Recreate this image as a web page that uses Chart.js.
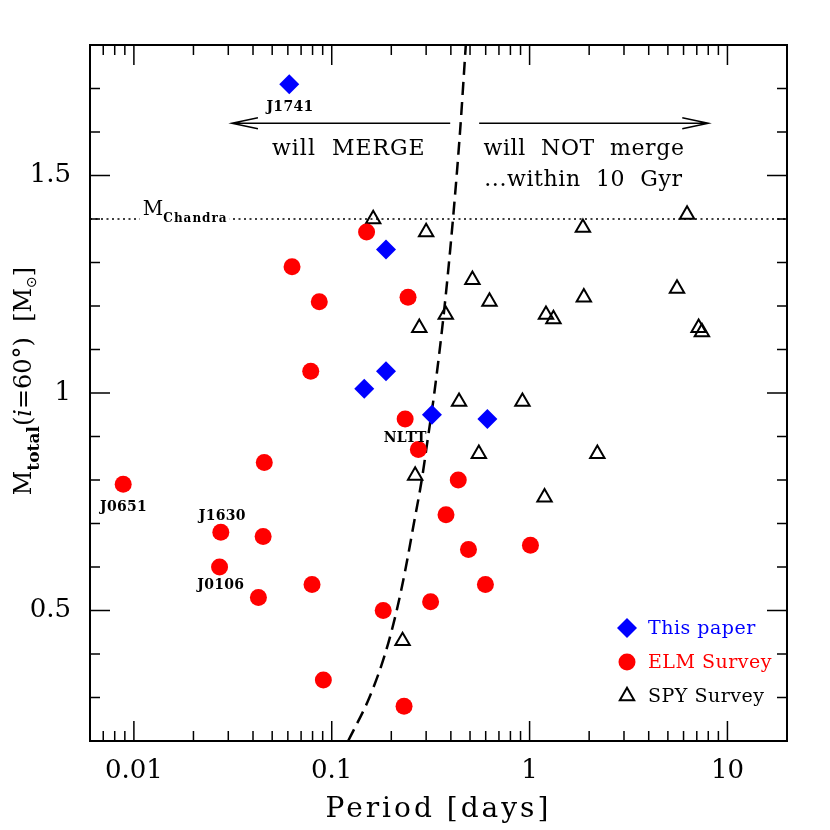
<!DOCTYPE html>
<html>
<head>
<meta charset="utf-8">
<script src="https://cdn.jsdelivr.net/npm/chart.js@4.4.1/dist/chart.umd.min.js"></script>
<style>
  html, body { margin: 0; padding: 0; background: #fff; }
  #wrap { width: 830px; height: 830px; }
</style>
</head>
<body>
<div id="wrap"><canvas id="chart"></canvas></div>
<script>
// axis ranges and ticks
const xMin = 0.006, xMax = 20, yMin = 0.2, yMax = 1.8;
const xMajorTicks = [0.01, 0.1, 1, 10];
const xMinorTicks = [0.007, 0.008, 0.009,
  0.02, 0.03, 0.04, 0.05, 0.06, 0.07, 0.08, 0.09,
  0.2, 0.3, 0.4, 0.5, 0.6, 0.7, 0.8, 0.9,
  2, 3, 4, 5, 6, 7, 8, 9];
const yMajorTicks = [0.5, 1, 1.5];
const yMinorTicks = [0.3, 0.4, 0.6, 0.7, 0.8, 0.9, 1.1, 1.2, 1.3, 1.4, 1.6, 1.7];

// This paper (blue diamonds)
const thisPaperPeriod = [0.061, 0.188, 0.188, 0.146, 0.321, 0.612];
const thisPaperMass   = [1.71, 1.33, 1.05, 1.01, 0.95, 0.94];

// ELM Survey (red circles)
const elmPeriod = [0.150, 0.063, 0.0865, 0.243, 0.0783, 0.235, 0.274, 0.0456, 0.00883, 0.0275, 0.045, 0.0271,
  0.0795, 0.0426, 0.182, 0.0907, 0.232, 0.436, 0.378, 0.491, 1.01, 0.598, 0.316];
const elmMass = [1.37, 1.29, 1.21, 1.22, 1.05, 0.94, 0.87, 0.84, 0.79, 0.68, 0.67, 0.60,
  0.56, 0.53, 0.50, 0.34, 0.28, 0.80, 0.72, 0.64, 0.65, 0.56, 0.52];

// SPY Survey (open triangles)
const spyPeriod = [0.162, 0.30, 0.277, 1.86, 6.25, 0.514, 0.627, 0.377, 1.21, 1.32, 1.88, 5.56, 7.15, 7.43,
  0.44, 0.92, 0.554, 2.20, 0.264, 1.19, 0.228];
const spyMass = [1.40, 1.37, 1.15, 1.38, 1.41, 1.26, 1.21, 1.18, 1.18, 1.17, 1.22, 1.24, 1.15, 1.14,
  0.98, 0.98, 0.86, 0.86, 0.81, 0.76, 0.43];

// 10 Gyr merger time line
const curveMass   = [0.2, 0.3, 0.4, 0.5, 0.6, 0.7, 0.8, 0.9, 1.0, 1.2, 1.4, 1.6, 1.8];
const curvePeriod = [0.121, 0.155, 0.186, 0.213, 0.237, 0.26, 0.285, 0.307, 0.33, 0.372, 0.41, 0.445, 0.476];

// Chandrasekhar mass
const chandraMass = 1.4;

const SERIF = '"DejaVu Serif", serif';
const legendTextColor = ['#0000ff', '#ff0000', '#000000'];

const starLabels = [
  { text: 'J1741', x: 0.0615, y: 1.649 },
  { text: 'NLTT', x: 0.235, y: 0.8875 },
  { text: 'J0651', x: 0.00887, y: 0.729 },
  { text: 'J1630', x: 0.028, y: 0.7076 },
  { text: 'J0106', x: 0.0275, y: 0.5485 }
];
const arrowY = 1.62;
const mergeArrow = [0.397, 0.0313];
const noMergeArrow = [0.556, 8.0];

function pairs(xs, ys) {
  return xs.map((v, i) => ({ x: v, y: ys[i] }));
}

function put(ctx, str, px, py, font, color, align, spacing) {
  ctx.save();
  ctx.font = font;
  ctx.fillStyle = color;
  ctx.textAlign = align || 'left';
  ctx.textBaseline = 'alphabetic';
  ctx.letterSpacing = spacing || '0px';
  ctx.fillText(str, px, py);
  ctx.restore();
}

function arrow(ctx, x0, x1, py) {
  const dir = Math.sign(x1 - x0);
  ctx.beginPath();
  ctx.moveTo(x0, py);
  ctx.lineTo(x1, py);
  ctx.moveTo(x1 - dir * 26, py - 5.5);
  ctx.lineTo(x1, py);
  ctx.lineTo(x1 - dir * 26, py + 5.5);
  ctx.stroke();
}

const decorations = {
  id: 'decorations',
  afterDatasetsDraw(chart) {
    const ctx = chart.ctx, a = chart.chartArea;
    const X = v => chart.scales.x.getPixelForValue(v);
    const Y = v => chart.scales.y.getPixelForValue(v);
    ctx.save();

    // frame and inward ticks on all four sides
    ctx.strokeStyle = '#000';
    ctx.lineWidth = 2;
    ctx.strokeRect(a.left, a.top, a.right - a.left, a.bottom - a.top);
    ctx.lineWidth = 1.5;
    ctx.beginPath();
    const xt = (vals, len) => vals.forEach(v => {
      const p = X(v);
      ctx.moveTo(p, a.bottom); ctx.lineTo(p, a.bottom - len);
      ctx.moveTo(p, a.top); ctx.lineTo(p, a.top + len);
    });
    const yt = (vals, len) => vals.forEach(v => {
      const p = Y(v);
      ctx.moveTo(a.left, p); ctx.lineTo(a.left + len, p);
      ctx.moveTo(a.right, p); ctx.lineTo(a.right - len, p);
    });
    xt(xMajorTicks, 20); xt(xMinorTicks, 10);
    yt(yMajorTicks, 20); yt(yMinorTicks, 10);
    ctx.stroke();

    // arrows and their captions
    ctx.lineWidth = 1.5;
    arrow(ctx, X(mergeArrow[0]), X(mergeArrow[1]), Y(arrowY));
    arrow(ctx, X(noMergeArrow[0]), X(noMergeArrow[1]), Y(arrowY));
    put(ctx, 'will  MERGE', X(0.122), Y(1.548), '22px ' + SERIF, '#000', 'center', '1px');
    put(ctx, 'will  NOT  merge', X(0.585), Y(1.548), '22px ' + SERIF, '#000', 'left', '0.6px');
    put(ctx, '...within  10  Gyr', X(0.59), Y(1.475), '22px ' + SERIF, '#000', 'left', '0.6px');

    // M_Chandra label over the dotted line
    const mx = X(0.0111), my = Y(1.41);
    ctx.font = '20px ' + SERIF;
    const wM = ctx.measureText('M').width;
    ctx.font = 'bold 12px ' + SERIF;
    ctx.letterSpacing = '1px';
    const wC = ctx.measureText('Chandra').width;
    ctx.letterSpacing = '0px';
    ctx.fillStyle = '#fff';
    ctx.fillRect(mx - 3, Y(chandraMass) - 3, wM + wC + 5, 6);
    put(ctx, 'M', mx, my, '20px ' + SERIF, '#000', 'left');
    put(ctx, 'Chandra', mx + wM, my + 7, 'bold 12px ' + SERIF, '#000', 'left', '1px');

    // object names
    starLabels.forEach(s => put(ctx, s.text, X(s.x), Y(s.y), 'bold 14px ' + SERIF, '#000', 'center', '0.3px'));

    // legend
    chart.data.datasets.slice(0, 3).forEach((ds, i) => {
      const lx = a.right - 160, ly = a.bottom - 113 + i * 34;
      ctx.fillStyle = ds.backgroundColor;
      ctx.strokeStyle = ds.borderColor || ds.backgroundColor;
      ctx.lineWidth = ds.borderWidth;
      ctx.setLineDash([]);
      Chart.helpers.drawPoint(ctx, { pointStyle: ds.pointStyle, radius: ds.pointRadius, borderWidth: ds.borderWidth, rotation: 0 }, lx, ly);
      put(ctx, ds.label, lx + 21, ly + 5.5, '19px ' + SERIF, legendTextColor[i], 'left', '0.5px');
    });

    // axis titles
    put(ctx, 'Period [days]', (a.left + a.right) / 2, 817, '28px ' + SERIF, '#000', 'center', '3px');
    const main = '24px ' + SERIF;
    const runs = [
      ['M', main, 0],
      ['total', 'bold 17px ' + SERIF, 8],
      ['(', main, 0],
      ['i', 'italic 24px ' + SERIF, 0],
      ['=60°)', main, 0],
      ['  [M', main, 0],
      ['\u2299', '14px "DejaVu Sans"', 5],
      [']', main, 0]
    ];
    ctx.save();
    ctx.translate(31, (a.top + a.bottom) / 2 - 12);
    ctx.rotate(-Math.PI / 2);
    ctx.fillStyle = '#000';
    ctx.textBaseline = 'alphabetic';
    let total = 0;
    runs.forEach(r => { ctx.font = r[1]; total += ctx.measureText(r[0]).width; });
    let cx = -total / 2;
    runs.forEach(r => { ctx.font = r[1]; ctx.fillText(r[0], cx, r[2]); cx += ctx.measureText(r[0]).width; });
    ctx.restore();

    ctx.restore();
  }
};

new Chart(document.getElementById('chart'), {
  type: 'scatter',
  data: {
    datasets: [
      {
        label: 'This paper',
        data: pairs(thisPaperPeriod, thisPaperMass),
        pointStyle: 'rectRot',
        pointRadius: 10,
        backgroundColor: '#0000ff',
        borderWidth: 0
      },
      {
        label: 'ELM Survey',
        data: pairs(elmPeriod, elmMass),
        pointStyle: 'circle',
        pointRadius: 8.5,
        backgroundColor: '#ff0000',
        borderWidth: 0
      },
      {
        label: 'SPY Survey',
        data: pairs(spyPeriod, spyMass),
        pointStyle: 'triangle',
        pointRadius: 8.3,
        backgroundColor: 'rgba(0,0,0,0)',
        borderColor: '#000000',
        borderWidth: 2
      },
      {
        label: '10 Gyr',
        data: pairs(curvePeriod, curveMass),
        showLine: true,
        pointRadius: 0,
        borderColor: '#000000',
        borderWidth: 2.5,
        borderDash: [13, 7],
        cubicInterpolationMode: 'monotone',
        fill: false
      },
      {
        label: 'Chandra',
        data: pairs([xMin, xMax], [chandraMass, chandraMass]),
        showLine: true,
        pointRadius: 0,
        borderColor: '#000000',
        borderWidth: 1.5,
        borderDash: [2, 3.5],
        fill: false
      }
    ]
  },
  options: {
    responsive: true,
    maintainAspectRatio: false,
    animation: false,
    events: [],
    layout: { padding: { left: 0, top: 45, right: 43, bottom: 0 } },
    plugins: { legend: { display: false }, tooltip: { enabled: false } },
    scales: {
      x: {
        type: 'logarithmic',
        min: xMin,
        max: xMax,
        grid: { display: false, drawTicks: false },
        border: { display: false },
        ticks: {
          font: { family: 'DejaVu Serif', size: 26 },
          color: '#000',
          padding: 15,
          autoSkip: false,
          maxRotation: 0,
          callback: v => String(v)
        },
        afterBuildTicks: s => { s.ticks = xMajorTicks.map(v => ({ value: v })); },
        afterFit: s => { s.height = 89; }
      },
      y: {
        type: 'linear',
        min: yMin,
        max: yMax,
        grid: { display: false, drawTicks: false },
        border: { display: false },
        ticks: {
          font: { family: 'DejaVu Serif', size: 26 },
          color: '#000',
          padding: 19,
          callback: v => String(v)
        },
        afterBuildTicks: s => { s.ticks = yMajorTicks.map(v => ({ value: v })); },
        afterFit: s => { s.width = 90; }
      }
    }
  },
  plugins: [decorations]
});
</script>
</body>
</html>
